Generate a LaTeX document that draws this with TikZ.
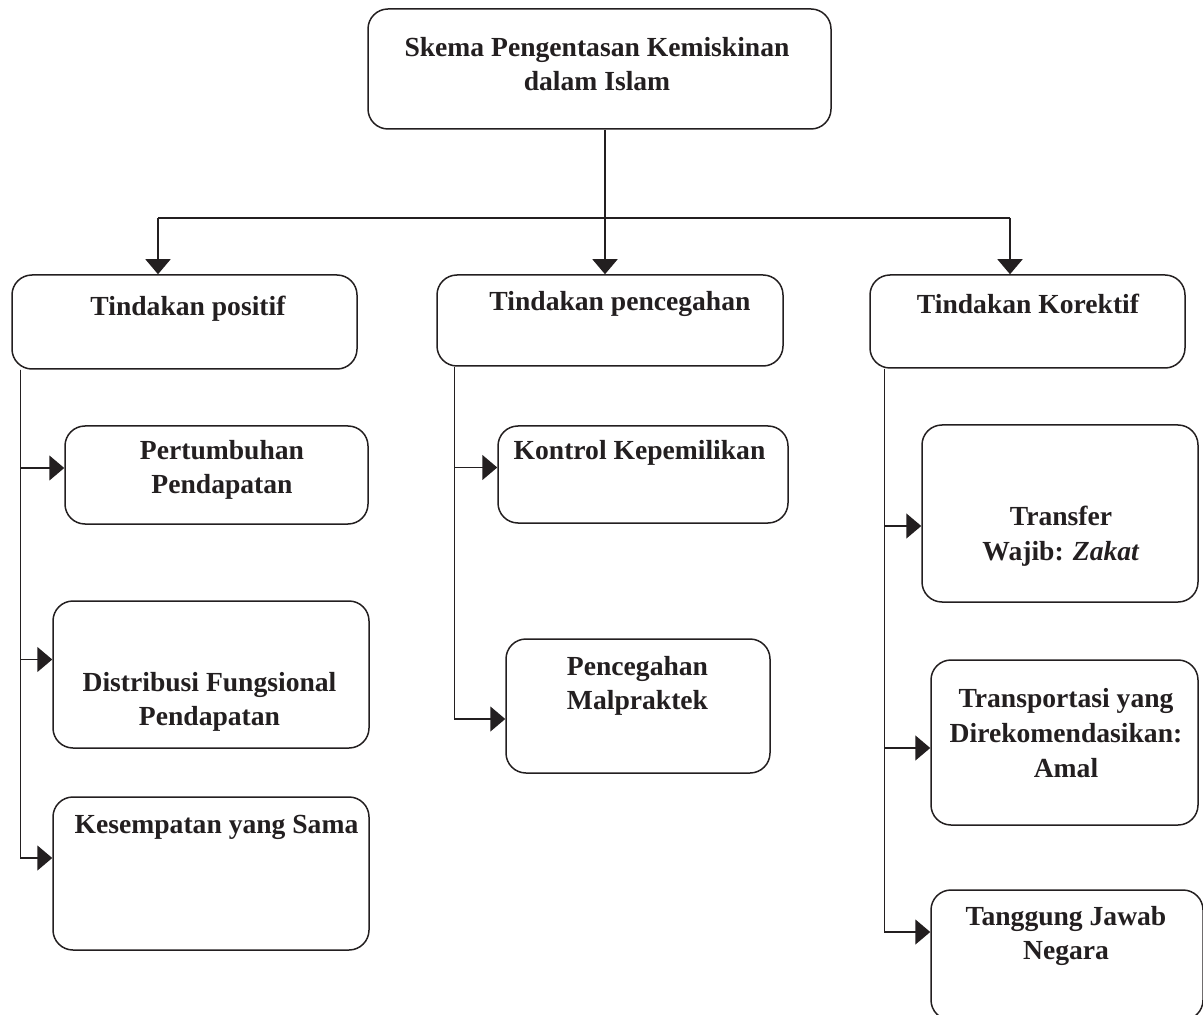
\documentclass[tikz,border=0pt]{standalone}
\usepackage{fontspec}
\setmainfont{Liberation Serif}
\usetikzlibrary{arrows.meta}
\definecolor{ink}{HTML}{231F20}

\begin{document}
\begin{tikzpicture}[x=0.5pt,y=-0.5pt, line width=0.75pt, color=ink,
	box/.style={draw=ink, rounded corners=10pt, inner sep=0pt},
	txt/.style={text=ink, font=\bfseries\fontsize{13.8}{17.3}\selectfont, align=center, inner sep=0pt},
	arr/.style={draw=ink, -{Triangle[length=7.5pt,width=12.5pt]}}]

\useasboundingbox (0,0) rectangle (1203,1015);

% judul
\node[box, minimum width=231.5pt, minimum height=60pt] (skema) at (599.5,69) {};
\node[txt] (skemaT) at (597,64) {Skema Pengentasan Kemiskinan\\dalam Islam};

% tiga tindakan
\node[box, minimum width=172.5pt, minimum height=47pt] (positif) at (184.5,322) {};
\node[txt] (positifT) at (188,309) {Tindakan positif};
\node[box, minimum width=173pt, minimum height=45.5pt] (pencegahan) at (610,320.5) {};
\node[txt] (pencegahanT) at (620,304) {Tindakan pencegahan};
\node[box, minimum width=157.5pt, minimum height=46.5pt] (korektif) at (1027.5,321.5) {};
\node[txt] (korektifT) at (1028,304) {Tindakan Korektif};

% tindakan positif
\node[box, minimum width=151.5pt, minimum height=49pt] (tumbuh) at (216.5,475) {};
\node[txt] (tumbuhT) at (222,470) {Pertumbuhan\\Pendapatan};
\node[box, minimum width=158pt, minimum height=73.5pt] (distribusi) at (211,674.5) {};
\node[txt] (distribusiT) at (209.5,702) {Distribusi Fungsional\\Pendapatan};
\node[box, minimum width=158pt, minimum height=76.5pt] (sama) at (211,873.5) {};
\node[txt] (samaT) at (216.5,827) {Kesempatan yang Sama};

% tindakan pencegahan
\node[box, minimum width=145pt, minimum height=48.5pt] (kontrol) at (643,474.5) {};
\node[txt] (kontrolT) at (639.5,453) {Kontrol Kepemilikan};
\node[box, minimum width=132pt, minimum height=67pt] (malpraktek) at (638,706) {};
\node[txt] (malpraktekT) at (637.5,686) {Pencegahan\\Malpraktek};

% tindakan korektif
\node[box, minimum width=138pt, minimum height=88.5pt] (zakat) at (1060,513.5) {};
\node[txt] (zakatT) at (1061,536) {Transfer\\Wajib: \textit{Zakat}};
\node[box, minimum width=133.5pt, minimum height=82.5pt] (amal) at (1064.5,742.5) {};
\node[txt] (amalT) at (1066,733) {Transportasi yang\\Direkomendasikan:\\Amal};
\node[box, minimum width=136pt, minimum height=65pt] (negara) at (1067,955) {};
\node[txt] (negaraT) at (1066,936) {Tanggung Jawab\\Negara};

% garis
\coordinate (bus) at (605,218);
\coordinate (busL) at (158,218);
\coordinate (busR) at (1010,218);
\draw (skema.south -| bus) -- (bus);
\draw (busL) -- (busR);
\draw[arr] (busL) -- (busL |- positif.north);
\draw[arr] (bus) -- (bus |- pencegahan.north);
\draw[arr] (busR) -- (busR |- korektif.north);

\draw[arr] ([xshift=4.5pt]positif.south west) |- ([yshift=3.5pt]tumbuh.west);
\draw[arr] ([xshift=4.5pt]positif.south west) |- ([yshift=7.5pt]distribusi.west);
\draw[arr] ([xshift=4.5pt]positif.south west) |- ([yshift=7.75pt]sama.west);

\draw[arr] ([xshift=9pt]pencegahan.south west) |- ([yshift=3.5pt]kontrol.west);
\draw[arr] ([xshift=9pt]pencegahan.south west) |- ([yshift=-6.5pt]malpraktek.west);

\draw[arr] ([xshift=7.5pt]korektif.south west) |- ([yshift=-6.25pt]zakat.west);
\draw[arr] ([xshift=7.5pt]korektif.south west) |- ([yshift=-2.75pt]amal.west);
\draw[arr] ([xshift=7.5pt]korektif.south west) |- ([yshift=11.5pt]negara.west);
\end{tikzpicture}
\end{document}
